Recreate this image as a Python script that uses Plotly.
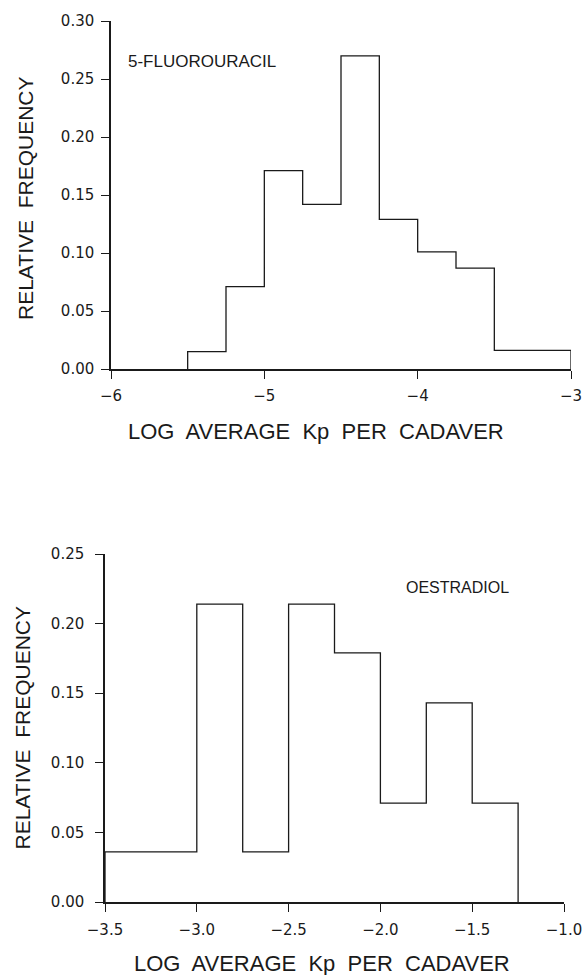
import plotly.graph_objects as go

# 5-fluorouracil: bins of width 0.25 from -5.5 to -3.0
fu_edges = [-5.5, -5.25, -5.0, -4.75, -4.5, -4.25, -4.0, -3.75, -3.5, -3.25, -3.0]
fu_freq = [0.015, 0.071, 0.171, 0.142, 0.270, 0.129, 0.101, 0.087, 0.016, 0.016]

# Oestradiol: bins of width 0.25 from -3.5 to -1.25
oe_edges = [-3.5, -3.25, -3.0, -2.75, -2.5, -2.25, -2.0, -1.75, -1.5, -1.25]
oe_freq = [0.036, 0.036, 0.214, 0.036, 0.214, 0.179, 0.071, 0.143, 0.071]

top_xticks = [-6, -5, -4, -3]
top_yticks = [0.0, 0.05, 0.10, 0.15, 0.20, 0.25, 0.30]
bot_xticks = [-3.5, -3.0, -2.5, -2.0, -1.5, -1.0]
bot_yticks = [0.0, 0.05, 0.10, 0.15, 0.20, 0.25]

W, H = 583, 975
INK = "#1a1a1a"
FONT = "Liberation Sans"
TICKFONT = dict(family="DejaVu Sans", size=15, color=INK)


def outline(edges, freq):
    # closed step outline: rise at first edge, fall at last edge
    xs = [edges[0]] + list(edges)
    ys = [0] + list(freq) + [0]
    return xs, ys


def px_x(p):
    return p / W


def px_y(p):
    return 1 - p / H


fig = go.Figure()

x1, y1 = outline(fu_edges, fu_freq)
fig.add_trace(go.Scatter(x=x1, y=y1, mode="lines", line=dict(color=INK, width=1.3, shape="hv"),
                         xaxis="x", yaxis="y", showlegend=False, hoverinfo="skip"))
x2, y2 = outline(oe_edges, oe_freq)
fig.add_trace(go.Scatter(x=x2, y=y2, mode="lines", line=dict(color=INK, width=1.3, shape="hv"),
                         xaxis="x2", yaxis="y2", showlegend=False, hoverinfo="skip"))

axis_common = dict(showgrid=False, zeroline=False, showline=True, linecolor=INK, linewidth=1.5,
                   ticks="outside", ticklen=8, tickwidth=1.3, tickcolor=INK, tickfont=TICKFONT,
                   automargin=False)

fig.update_layout(
    width=W, height=H,
    margin=dict(l=0, r=0, t=0, b=0, pad=0),
    paper_bgcolor="white", plot_bgcolor="white",
    font=dict(family=FONT, color=INK),
    xaxis=dict(domain=[px_x(111), px_x(571)], range=[-6, -3], anchor="y",
               tickvals=top_xticks, tickformat="d", ticklabelstandoff=4, **axis_common),
    yaxis=dict(domain=[px_y(369), px_y(21)], range=[0, 0.30], anchor="x",
               tickvals=top_yticks, tickformat=".2f", ticklabelstandoff=4, **axis_common),
    xaxis2=dict(domain=[px_x(105), px_x(564)], range=[-3.5, -1.0], anchor="y2",
                tickvals=bot_xticks, tickformat=".1f", ticklabelstandoff=5, **axis_common),
    yaxis2=dict(domain=[px_y(902), px_y(554)], range=[0, 0.25], anchor="x2",
                tickvals=bot_yticks, tickformat=".2f", ticklabelstandoff=8, **axis_common),
)


def label(text, x, y, size, angle=0, xanchor="center"):
    fig.add_annotation(text=text, x=px_x(x), y=px_y(y), textangle=angle,
                       xanchor=xanchor, yanchor="middle",
                       xref="paper", yref="paper", showarrow=False,
                       font=dict(family=FONT, size=size, color=INK))


label("LOG  AVERAGE  Kp  PER  CADAVER", 316, 431, 22)
label("LOG  AVERAGE  Kp  PER  CADAVER", 322, 963, 22)
label("RELATIVE  FREQUENCY", 26, 198, 21, angle=-90)
label("RELATIVE  FREQUENCY", 21.5, 728, 21, angle=-90)
label("5-FLUOROURACIL", 126, 61, 17, xanchor="left")
label("OESTRADIOL", 404, 587, 16, xanchor="left")

fig.write_html("out.html")
